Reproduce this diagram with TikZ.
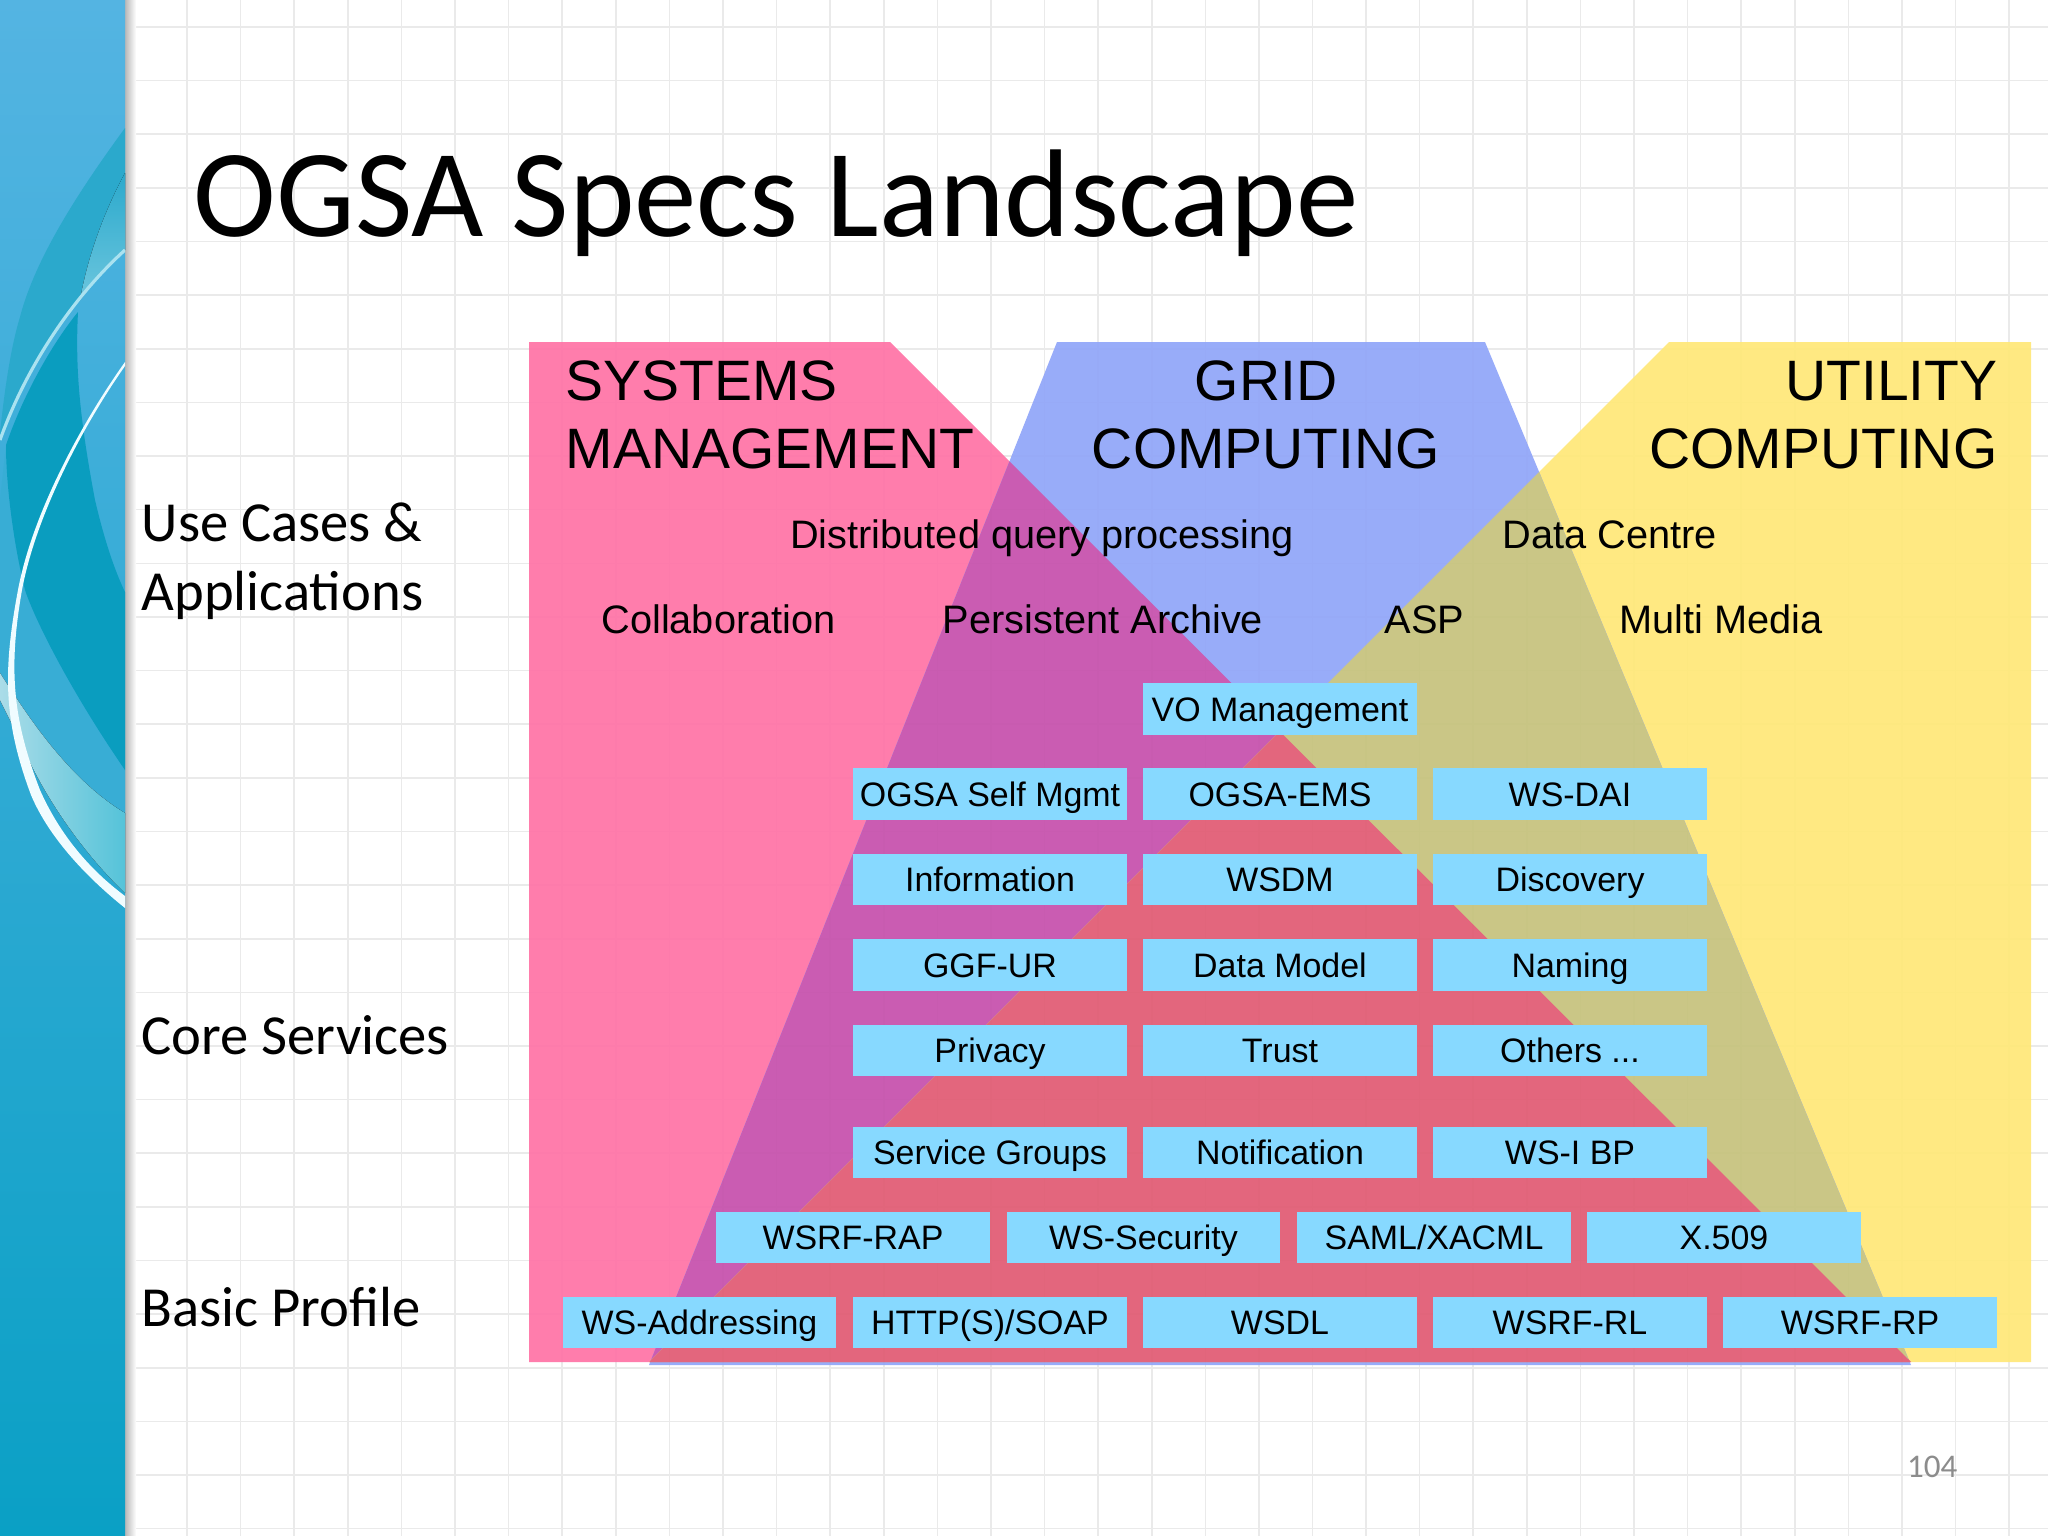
\documentclass[tikz,border=0pt]{standalone}
\usepackage{fontspec}
\setmainfont{Liberation Sans}
\newfontfamily\slidefont{Carlito}
\usepackage{xcolor}
\definecolor{sysPink}{HTML}{FF72A6}
\definecolor{gridBlue}{HTML}{90A5F9}
\definecolor{utilYellow}{HTML}{FFE878}
\definecolor{pinkBlue}{HTML}{C64FAC}
\definecolor{blueYellow}{HTML}{C6C27C}
\definecolor{allRed}{HTML}{E15A72}
\definecolor{boxBlue}{HTML}{87D9FF}
\definecolor{paperLine}{HTML}{EAEAEA}
\definecolor{bandTop}{HTML}{54B4E2}
\definecolor{bandMid}{HTML}{3CAED8}
\definecolor{bandEnd}{HTML}{0AA0C5}
\definecolor{swooshTeal}{HTML}{2BA9CC}
\definecolor{swooshPale}{HTML}{6CC6DE}
\definecolor{swooshDark}{HTML}{0A9DBF}
\definecolor{swooshLight}{HTML}{38ADD5}
\definecolor{streakPale}{HTML}{AAE2F0}
\definecolor{ribbonLeft}{HTML}{AADCE8}
\definecolor{ribbonRight}{HTML}{55C3D9}
\definecolor{curveWhite}{HTML}{F0FCFF}
\newcommand{\sysshape}{(529,342) -- (890,342) -- (1911,1362) -- (529,1362) -- cycle}
\newcommand{\utilshape}{(2031,342) -- (1669,342) -- (649,1362) -- (2031,1362) -- cycle}
\newcommand{\gridshape}{(1057,342) -- (1485,342) -- (1911,1365) -- (649,1365) -- cycle}
\tikzset{
	specbox/.style={fill=boxBlue, minimum width=2.73cm, minimum height=0.51cm, inner sep=0pt, text height=0.31cm, text depth=0.07cm, font=\fontsize{9.65}{11}\selectfont},
	headtext/.style={inner sep=0pt, font=\fontsize{16.2}{19.3}\selectfont},
	midtext/.style={inner sep=0pt, anchor=base, font=\fontsize{11.3}{13}\selectfont},
	sidetext/.style={inner sep=0pt, anchor=base west, font=\slidefont\fontsize{16.1}{19.6}\selectfont},
}
\begin{document}
\begin{tikzpicture}[x=0.01cm, y=-0.01cm]
	\useasboundingbox (0,0) rectangle (2048,1536);
	\fill[white] (0,0) rectangle (2048,1536);
	% draw paper lines
	\begin{scope}[shift={(26.3,27)}]
		\draw[paperLine, line width=0.45pt, xstep=0.5356cm, ystep=0.536cm] (-30,1520) grid (2030,-30);
	\end{scope}
	% draw left band
	\fill[left color=black!28, right color=white] (125,0) rectangle (136,1536);
	\begin{scope}
		\clip (0,0) rectangle (125,1536);
		\fill[top color=bandTop, middle color=bandMid, bottom color=bandEnd] (0,0) rectangle (125,1536);
		\fill[swooshTeal] (125,128) .. controls (67,207) and (33,267) .. (20,317) .. controls (10,350) and (4,395) .. (0,433) -- (0,440) .. controls (25,370) and (70,300) .. (125,250) -- cycle;
		\fill[bottom color=swooshPale, top color=swooshTeal] (125,173) .. controls (105,210) and (88,255) .. (80,300) .. controls (95,280) and (110,262) .. (125,250) -- cycle;
		\draw[streakPale, line width=0.9pt] (0,440) .. controls (25,370) and (70,300) .. (125,250);
		\fill[swooshLight] (6,445) .. controls (6,490) and (15,550) .. (25,590) .. controls (35,620) and (70,690) .. (125,770) -- (125,815) .. controls (70,790) and (30,720) .. (0,675) -- (0,500) -- cycle;
		\fill[swooshDark] (78,312) .. controls (75,370) and (80,420) .. (95,500) .. controls (102,530) and (112,565) .. (125,592) -- (125,770) .. controls (70,690) and (35,620) .. (25,590) .. controls (15,550) and (6,490) .. (6,445) .. controls (25,390) and (55,340) .. (78,312) -- cycle;
		\fill[left color=ribbonLeft, right color=ribbonRight] (0,673) .. controls (30,720) and (70,780) .. (125,813) -- (125,893) .. controls (80,850) and (40,790) .. (20,740) -- (0,700) -- cycle;
		\fill[curveWhite] (125,362) .. controls (85,418) and (33,510) .. (18,590) .. controls (3,670) and (3,720) .. (31,795) .. controls (50,840) and (90,880) .. (125,908) -- (125,896) .. controls (90,870) and (60,835) .. (40,790) .. controls (13,720) and (8,670) .. (22,590) .. controls (37,510) and (87,420) .. (125,366) -- cycle;
	\end{scope}
	% draw title and row labels
	\node[anchor=base west, inner sep=0pt, font=\slidefont\fontsize{35.5}{40}\selectfont] (titletext) at (193,236) {OGSA Specs Landscape};
	\node[sidetext] (uselabel) at (141,541) {Use Cases \&};
	\node[sidetext] (appslabel) at (141,610) {Applications};
	\node[sidetext] (corelabel) at (141,1054) {Core Services};
	\node[sidetext] (basiclabel) at (141,1326) {Basic Profile};
	% draw the three areas
	\begin{scope}[transparency group, opacity=0.92]
		\fill[sysPink] \sysshape;
		\fill[utilYellow] \utilshape;
		\fill[gridBlue] \gridshape;
		\begin{scope}
			\clip \gridshape;
			\fill[pinkBlue] \sysshape;
			\fill[blueYellow] \utilshape;
		\end{scope}
		\begin{scope}
			\clip \sysshape;
			\fill[allRed] \utilshape;
		\end{scope}
	\end{scope}
	% draw area headings
	\node[headtext, anchor=base west] (syshead) at (565,400) {SYSTEMS};
	\node[headtext, anchor=base west] (sysheadb) at (565,468.5) {MANAGEMENT};
	\node[headtext, anchor=base] (gridhead) at (1266,400) {GRID};
	\node[headtext, anchor=base] (gridheadb) at (1266,468.5) {COMPUTING};
	\node[headtext, anchor=base east] (utilhead) at (1998,400) {UTILITY};
	\node[headtext, anchor=base east] (utilheadb) at (1998,468.5) {COMPUTING};
	% use cases
	\node[midtext] (distquery) at (1042,548) {Distributed query processing};
	\node[midtext] (datacentre) at (1610,548) {Data Centre};
	\node[midtext] (collab) at (718.5,633.5) {Collaboration};
	\node[midtext] (archive) at (1103,633.5) {Persistent Archive};
	\node[midtext] (asp) at (1424.5,633.5) {ASP};
	\node[midtext] (multimedia) at (1720.7,633.5) {Multi Media};
	% core services
	\node[specbox] (vomgmt) at (1280,709) {VO Management};
	\node[specbox] (selfmgmt) at (990,794) {OGSA Self Mgmt};
	\node[specbox] (ems) at (1280,794) {OGSA-EMS};
	\node[specbox] (dai) at (1570,794) {WS-DAI};
	\node[specbox] (information) at (990,879.5) {Information};
	\node[specbox] (wsdm) at (1280,879.5) {WSDM};
	\node[specbox] (discovery) at (1570,879.5) {Discovery};
	\node[specbox] (ggfur) at (990,965) {GGF-UR};
	\node[specbox] (datamodel) at (1280,965) {Data Model};
	\node[specbox] (naming) at (1570,965) {Naming};
	\node[specbox] (privacy) at (990,1050) {Privacy};
	\node[specbox] (trust) at (1280,1050) {Trust};
	\node[specbox] (others) at (1570,1050) {Others ...};
	% basic profile
	\node[specbox] (svcgroups) at (990,1152.5) {Service Groups};
	\node[specbox] (notification) at (1280,1152.5) {Notification};
	\node[specbox] (wsibp) at (1570,1152.5) {WS-I BP};
	\node[specbox] (wsrfrap) at (853,1237.5) {WSRF-RAP};
	\node[specbox] (wssecurity) at (1143.5,1237.5) {WS-Security};
	\node[specbox] (samlxacml) at (1434,1237.5) {SAML/XACML};
	\node[specbox] (xfivenine) at (1724,1237.5) {X.509};
	\node[specbox] (wsaddr) at (699.5,1322.5) {WS-Addressing};
	\node[specbox] (httpsoap) at (990,1322.5) {HTTP(S)/SOAP};
	\node[specbox] (wsdl) at (1280,1322.5) {WSDL};
	\node[specbox] (wsrfrl) at (1570,1322.5) {WSRF-RL};
	\node[specbox] (wsrfrp) at (1860,1322.5) {WSRF-RP};
	% page number
	\node[anchor=base east, inner sep=0pt, text=black!45, font=\slidefont\fontsize{9.4}{11}\selectfont] (pagenum) at (1958,1477) {104};
\end{tikzpicture}
\end{document}
